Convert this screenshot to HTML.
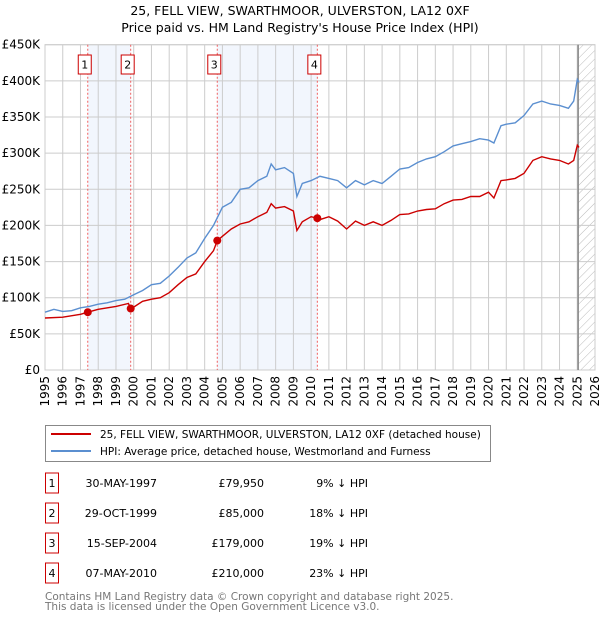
<!DOCTYPE html>
<html><head><meta charset="utf-8"><style>
body{margin:0;background:#fff;font-family:"DejaVu Sans","Liberation Sans",sans-serif;}
svg text{font-family:"DejaVu Sans","Liberation Sans",sans-serif;}
</style></head><body>
<svg id="c" width="600" height="620" xmlns="http://www.w3.org/2000/svg">
<defs><pattern id="hatch" width="6" height="6" patternUnits="userSpaceOnUse" patternTransform="rotate(45)"><line x1="0" y1="0" x2="0" y2="6" stroke="#bbb" stroke-width="1"/></pattern></defs>
<text x="300" y="15" text-anchor="middle" font-size="12.5">25, FELL VIEW, SWARTHMOOR, ULVERSTON, LA12 0XF</text>
<text x="300" y="32" text-anchor="middle" font-size="12.5">Price paid vs. HM Land Registry's House Price Index (HPI)</text>
<g id="plot"></g>
<g>
<rect x="45.5" y="425.5" width="445" height="36" fill="#fff" stroke="#888"/>
<line x1="51" y1="434" x2="91" y2="434" stroke="#cc0000" stroke-width="2"/>
<text x="100" y="438" font-size="10.5">25, FELL VIEW, SWARTHMOOR, ULVERSTON, LA12 0XF (detached house)</text>
<line x1="51" y1="451" x2="91" y2="451" stroke="#5b8fd0" stroke-width="2"/>
<text x="100" y="455" font-size="10.5">HPI: Average price, detached house, Westmorland and Furness</text>
</g>
<g id="table" font-size="11"></g>
<text x="45" y="600" font-size="10.5" fill="#777">Contains HM Land Registry data © Crown copyright and database right 2025.</text>
<text x="45" y="610" font-size="10.5" fill="#777">This data is licensed under the Open Government Licence v3.0.</text>
</svg>
<script>
const yTicks=[0,50,100,150,200,250,300,350,400,450];
const yTickLabels=["£0","£50K","£100K","£150K","£200K","£250K","£300K","£350K","£400K","£450K"];
const years=[1995,1996,1997,1998,1999,2000,2001,2002,2003,2004,2005,2006,2007,2008,2009,2010,2011,2012,2013,2014,2015,2016,2017,2018,2019,2020,2021,2022,2023,2024,2025,2026];
const hpiT=[1995,1995.5,1996,1996.5,1997,1997.5,1998,1998.5,1999,1999.5,2000,2000.5,2001,2001.5,2002,2002.5,2003,2003.5,2004,2004.5,2005,2005.5,2006,2006.5,2007,2007.5,2007.75,2008,2008.5,2009,2009.2,2009.5,2010,2010.5,2011,2011.5,2012,2012.5,2013,2013.5,2014,2014.5,2015,2015.5,2016,2016.5,2017,2017.5,2018,2018.5,2019,2019.5,2020,2020.3,2020.7,2021,2021.5,2022,2022.5,2023,2023.5,2024,2024.5,2024.8,2025,2025.1];
const hpiV=[80,84,81,82,86,88,91,93,96,98,104,110,118,120,130,142,155,162,182,200,225,232,250,252,262,268,285,277,280,272,240,258,262,268,265,262,252,262,256,262,258,268,278,280,287,292,295,302,310,313,316,320,318,314,338,340,342,352,368,372,368,366,362,372,402,398];
const priceT=[1995,1996,1997,1997.41,1998,1999,1999.7,1999.83,2000,2000.5,2001,2001.5,2002,2002.5,2003,2003.5,2004,2004.5,2004.71,2005,2005.5,2006,2006.5,2007,2007.5,2007.75,2008,2008.5,2009,2009.2,2009.5,2010,2010.35,2010.5,2011,2011.5,2012,2012.5,2013,2013.5,2014,2014.5,2015,2015.5,2016,2016.5,2017,2017.5,2018,2018.5,2019,2019.5,2020,2020.3,2020.7,2021,2021.5,2022,2022.5,2023,2023.5,2024,2024.5,2024.8,2025,2025.1];
const priceV=[72,73,77,80,84,88,92,85,87,95,98,100,107,118,128,133,150,165,179,185,195,202,205,212,218,230,224,226,220,193,205,212,210,208,212,206,195,206,200,205,200,207,215,216,220,222,223,230,235,236,240,240,246,238,262,263,265,272,290,295,292,290,285,290,311,308];
const saleT=[1997.41,1999.83,2004.71,2010.35];
const saleV=[79.95,85,179,210];
const saleLabels=["1","2","3","4"];
const saleDates=["30-MAY-1997","29-OCT-1999","15-SEP-2004","07-MAY-2010"];
const salePrices=["£79,950","£85,000","£179,000","£210,000"];
const saleDiff=["9% ↓ HPI","18% ↓ HPI","19% ↓ HPI","23% ↓ HPI"];
const X0=45,X1=595,Y0=370,Y1=44.7,T0=1995,T1=2026,VMAX=450,DATA_END=2025.05;
const xs=t=>X0+(t-T0)/(T1-T0)*(X1-X0);
const ys=v=>Y0-v/VMAX*(Y0-Y1);
const NS="http://www.w3.org/2000/svg";
function mk(tag,attrs,parent,text){const e=document.createElementNS(NS,tag);for(const k in attrs)e.setAttribute(k,attrs[k]);if(text!==undefined)e.textContent=text;parent.appendChild(e);return e;}
const g=document.getElementById('plot');
for(let i=0;i<saleT.length;i+=2){const r=mk('rect',{x:xs(saleT[i]),y:Y1,width:xs(saleT[i+1])-xs(saleT[i]),height:Y0-Y1,fill:'#f2f6fd'},g);

}
const h=mk('rect',{x:xs(DATA_END),y:Y1,width:X1-xs(DATA_END),height:Y0-Y1,fill:'url(#hatch)'},g);


yTicks.forEach((v,i)=>{const l=mk('line',{x1:X0,x2:X1,y1:ys(v),y2:ys(v),stroke:'#ccc','stroke-width':1},g);


const t=mk('text',{x:X0-5,y:ys(v)+4,'text-anchor':'end','font-size':12},g,yTickLabels[i]);

});
years.forEach(y=>{const l=mk('line',{x1:xs(y),x2:xs(y),y1:Y1,y2:Y0,stroke:'#ccc','stroke-width':1},g);


const t=mk('text',{x:0,y:0,'text-anchor':'end','font-size':12,transform:`translate(${xs(y)+4},${Y0+6}) rotate(-90)`},g,String(y));

});
const fr=mk('rect',{x:X0,y:Y1,width:X1-X0,height:Y0-Y1,fill:'none',stroke:'#ccc'},g);


const el=mk('line',{x1:xs(DATA_END),x2:xs(DATA_END),y1:Y1,y2:Y0,stroke:'#888','stroke-width':1.5},g);


saleT.forEach((t,i)=>{const l=mk('line',{x1:xs(t),x2:xs(t),y1:Y1,y2:Y0,stroke:'#f06060','stroke-dasharray':'2,2','stroke-width':1},g);


const bx=xs(t)-3;
const b=mk('rect',{x:bx-6.5,y:55,width:13,height:19,fill:'#fff',stroke:'#cc0000'},g);


const tx=mk('text',{x:bx,y:68.5,'text-anchor':'middle','font-size':11},g,saleLabels[i]);

});
function path(T,V){return T.map((t,i)=>(i?'L':'M')+xs(t).toFixed(1)+','+ys(V[i]).toFixed(1)).join('');}
const hp=mk('path',{d:path(hpiT,hpiV),fill:'none',stroke:'#5b8fd0','stroke-width':1.4},g);


const pp=mk('path',{d:path(priceT,priceV),fill:'none',stroke:'#cc0000','stroke-width':1.4},g);


saleT.forEach((t,i)=>{const c=mk('circle',{cx:xs(t),cy:ys(saleV[i]),r:4,fill:'#cc0000'},g);

});
const tb=document.getElementById('table');
saleLabels.forEach((s,i)=>{const cy=483+i*30;
const b=mk('rect',{x:45.5,y:cy-10,width:13,height:20,fill:'#fff',stroke:'#cc0000'},tb);


const a=mk('text',{x:52,y:cy+4,'text-anchor':'middle'},tb,s);


const d=mk('text',{x:157,y:cy+4,'text-anchor':'end'},tb,saleDates[i]);


const p=mk('text',{x:264,y:cy+4,'text-anchor':'end'},tb,salePrices[i]);


const f=mk('text',{x:368,y:cy+4,'text-anchor':'end'},tb,saleDiff[i]);

});
</script>
</body></html>
